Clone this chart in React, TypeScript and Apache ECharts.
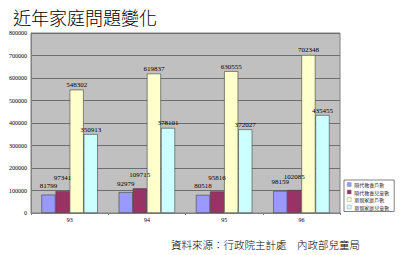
import React, { useEffect, useRef } from "react";
import * as echarts from "echarts";

const categories = ["93", "94", "95", "96"];
const seriesNames = ["隔代教養戶數", "隔代教養兒童數", "單親家庭戶數", "單親家庭兒童數"];
const grandHouseholds = [81799, 92979, 80518, 98159];
const grandChildren = [97341, 109715, 95816, 102085];
const singleHouseholds = [548302, 619837, 630555, 702348];
const singleChildren = [350913, 378101, 372027, 435455];
const yTicks = [0, 100000, 200000, 300000, 400000, 500000, 600000, 700000, 800000];

const colors = ["#9999FF", "#993366", "#FFFFCC", "#CCFFFF"];
const labelDistances = [5, 10, 1, 1];

export default function App() {
  const ref = useRef<HTMLDivElement>(null);
  useEffect(() => {
    if (!ref.current) return;
    const chart = echarts.init(ref.current, null, { renderer: "svg" });
    const data = [grandHouseholds, grandChildren, singleHouseholds, singleChildren];
    chart.setOption({
      animation: false,
      backgroundColor: "#FFFFFF",
      title: [
        {
          text: "近年家庭問題變化",
          left: 8,
          top: 3,
          textStyle: { fontFamily: "Noto Sans CJK TC", fontSize: 18, fontWeight: 300, color: "#000" },
        },
        {
          text: "資料來源：行政院主計處　內政部兒童局",
          left: 166,
          top: 234,
          textStyle: { fontFamily: "Noto Sans CJK TC", fontSize: 10.5, fontWeight: 300, color: "#000" },
        },
      ],
      legend: {
        orient: "vertical",
        left: 344,
        top: 180,
        data: seriesNames,
        icon: "rect",
        itemWidth: 4,
        itemHeight: 4,
        itemGap: 2.5,
        padding: [2, 5, 2, 3],
        borderColor: "#000",
        borderWidth: 0.5,
        backgroundColor: "#FFFFFF",
        itemStyle: { borderColor: "#808080", borderWidth: 0.4 },
        textStyle: { fontFamily: "Noto Sans CJK TC", fontSize: 5, color: "#333", padding: [0, 0, 0, -2] },
      },
      grid: {
        left: 31,
        right: 60,
        top: 33,
        bottom: 42,
        show: true,
        backgroundColor: "#C0C0C0",
        borderColor: "#808080",
        borderWidth: 1,
      },
      xAxis: {
        type: "category",
        data: categories,
        axisLine: { lineStyle: { color: "#808080", width: 1 } },
        axisTick: { show: true, length: 2, lineStyle: { color: "#808080" } },
        axisLabel: { fontFamily: "Liberation Serif", fontSize: 6, color: "#000", margin: 4 },
      },
      yAxis: {
        type: "value",
        min: 0,
        max: 800000,
        interval: 100000,
        axisLine: { show: true, lineStyle: { color: "#808080" } },
        axisTick: { show: false },
        splitLine: { lineStyle: { color: "#6E6E6E", width: 1 } },
        axisLabel: {
          fontFamily: "Liberation Serif",
          fontSize: 6,
          color: "#000",
          margin: 4,
          formatter: (v: number) => (yTicks.includes(v) ? String(v) : ""),
        },
      },
      series: seriesNames.map((name, i) => ({
        name,
        type: "bar",
        data: data[i],
        barGap: "0%",
        barCategoryGap: "27%",
        itemStyle: { color: colors[i], borderColor: "#404040", borderWidth: 0.6 },
        label: {
          show: true,
          position: "top",
          distance: labelDistances[i],
          fontFamily: "Liberation Serif",
          fontSize: 7,
          color: "#000",
        },
      })),
    });
    return () => chart.dispose();
  }, []);
  return <div ref={ref} style={{ width: 400, height: 255, position: "absolute", left: 0, top: 0 }} />;
}
